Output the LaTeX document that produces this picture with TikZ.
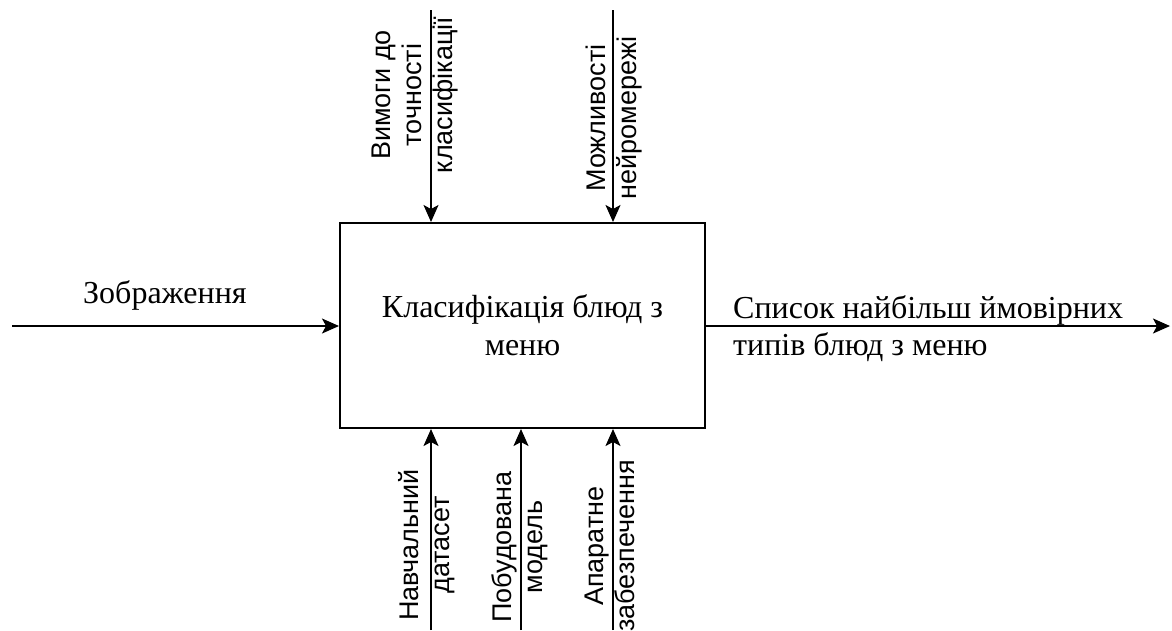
\documentclass[tikz,border=0pt]{standalone}
\usepackage{fontspec}
\setmainfont{Liberation Serif}
\setsansfont{Liberation Sans}
\usetikzlibrary{arrows.meta,positioning}

\begin{document}
\begin{tikzpicture}[x=1pt, y=-1pt,
  func/.style={draw, rectangle, line width=2pt, minimum width=365pt, minimum height=205pt, align=center, font=\fontsize{32}{38}\selectfont},
  flow/.style={line width=1.7pt, -{Stealth[length=17pt, width=15pt, inset=4pt]}},
  hlbl/.style={align=left, inner sep=0pt, font=\fontsize{32}{37}\selectfont},
  vlbl/.style={rotate=90, align=center, inner sep=0pt, font=\sffamily\fontsize{27}{31}\selectfont},
]
\clip (0,0) rectangle (1172,630);
\useasboundingbox (0,0) rectangle (1172,630);

\node[func] (box) at (522.5,325.5) {Класифікація блюд з\\меню};

% входи та виходи
\coordinate (inp) at (12,326);
\coordinate (outp) at (1170,326);
\draw[flow] (inp) -- (inp -| box.west);
\draw[flow] (outp -| box.east) -- (outp);
\node[hlbl, anchor=base west] (inplbl) at (83,303) {Зображення};
\node[hlbl, anchor=base west] (outplbl) at (733,355) {Список найбільш ймовірних\\типів блюд з меню};

% керування
\coordinate (ctl1) at (431,10);
\coordinate (ctl2) at (613,10);
\draw[flow] (ctl1) -- (ctl1 |- box.north);
\draw[flow] (ctl2) -- (ctl2 |- box.north);
\node[vlbl] (ctl1lbl) at (415,95) {Вимоги до\\точності\\класифікації};
\node[vlbl] (ctl2lbl) at (614,118) {Можливості\\нейромережі};

% механізми
\coordinate (mec1) at (431,630);
\coordinate (mec2) at (521,630);
\coordinate (mec3) at (613,630);
\draw[flow] (mec1) -- (mec1 |- box.south);
\draw[flow] (mec2) -- (mec2 |- box.south);
\draw[flow] (mec3) -- (mec3 |- box.south);
\node[vlbl] (mec1lbl) at (427,545) {Навчальний\\датасет};
\node[vlbl] (mec2lbl) at (520,547) {Побудована\\модель};
\node[vlbl] (mec3lbl) at (610,546) {Апаратне\\забезпечення};
\end{tikzpicture}
\end{document}
